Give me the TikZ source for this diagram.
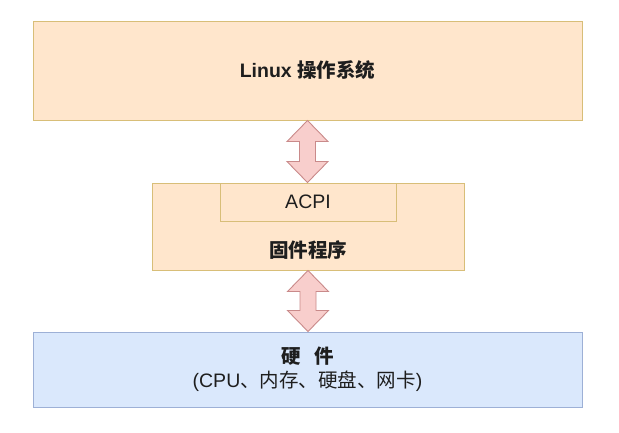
\documentclass[tikz,border=0pt]{standalone}
\usepackage{fontspec}
\setmainfont{Liberation Sans}
\newfontfamily\cjk{Noto Sans CJK SC}
\usetikzlibrary{calc}
\definecolor{osfill}{HTML}{FFE6CC}
\definecolor{osline}{HTML}{D8BE78}
\definecolor{hwfill}{HTML}{DAE8FC}
\definecolor{hwline}{HTML}{9DB0D6}
\definecolor{arrowfill}{HTML}{F8CECC}
\definecolor{arrowline}{HTML}{C98A8A}
\definecolor{textgray}{HTML}{1E1E1E}

\tikzset{dblarrow/.style={draw=arrowline,fill=arrowfill,line width=0.9pt,line join=miter}}

% fat two-headed arrow from the bottom of one box to the top of the next
\newcommand{\fatarrow}[2]{%
    \draw[dblarrow] let \p1=(#1), \p2=(#2) in
        (\x1,\y1) -- (\x1+20.5pt,\y1-21pt) -- (\x1+8pt,\y1-21pt) -- (\x1+8pt,\y2+21pt)
        -- (\x1+20.5pt,\y2+21pt) -- (\x1,\y2) -- (\x1-20.5pt,\y2+21pt) -- (\x1-8pt,\y2+21pt)
        -- (\x1-8pt,\y1-21pt) -- (\x1-20.5pt,\y1-21pt) -- cycle;}

\begin{document}
\begin{tikzpicture}[x=1pt, y=-1pt,
    every node/.style={font=\fontsize{19.5}{24}\selectfont, text=textgray},
    box/.style={draw=osline, fill=osfill, line width=1pt, inner sep=0pt},
    hwbox/.style={draw=hwline, fill=hwfill, line width=1pt, inner sep=0pt, align=center}]

    \useasboundingbox (0,0) rectangle (619,432);

    % === Operating system ===
    \node[box, minimum width=549pt, minimum height=99pt] (os) at (307.5,70.5) {\bfseries Linux {\cjk 操作系统}};

    % === Firmware with ACPI ===
    \node[box, minimum width=312pt, minimum height=87pt] (fw) at (308,226.5) {};
    \node[box, minimum width=176pt, minimum height=38pt] (acpi) at (308,202) {ACPI};
    \node (fwname) at ([yshift=20pt]fw.south) {\bfseries\cjk 固件程序};

    % === Hardware ===
    \node[hwbox, minimum width=549pt, minimum height=75pt] (hw) at (307.5,369.5)
        {{\bfseries\cjk 硬\hspace{0.7em}件}\\(CPU{\cjk 、内存、硬盘、网卡})};

    \fatarrow{os.south}{fw.north}
    \fatarrow{fw.south}{hw.north}
\end{tikzpicture}
\end{document}
